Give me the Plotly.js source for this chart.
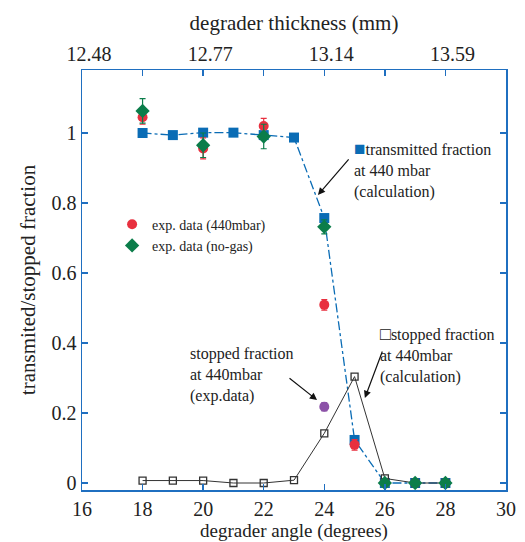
<!DOCTYPE html>
<html><head><meta charset="utf-8">
<script src="https://cdn.plot.ly/plotly-3.0.1.min.js"></script>
<style>body{margin:0;background:#fff}#c{width:525px;height:542px}</style>
</head><body><div id="c"></div>
<script>
const angles = [18,19,20,21,22,23,24,25,26,27,28];
const transCalc = [1.0,0.994,1.001,1.001,0.994,0.987,0.757,0.123,0.0,0.0,0.0];
const stopCalc = [0.007,0.007,0.007,0.0,0.0,0.008,0.142,0.304,0.013,0.0,0.0];
const expAngles = [18,20,22,24,25,26,27,28];
const exp440 = [1.045,0.956,1.02,0.509,0.109,0.0,0.0,0.0];
const exp440Err = [0.02,0.03,0.022,0.015,0.015,0.01,0.01,0.01];
const noGasAngles = [18,20,22,24,26,27,28];
const noGas = [1.063,0.965,0.99,0.732,0.0,0.0,0.0];
const noGasErr = [0.035,0.035,0.035,0.02,0.01,0.01,0.01];
const stopExpAngle = [24];
const stopExp = [0.218];
const stopExpErr = [0.012];
const angleTicks = [16,18,20,22,24,26,28,30];
const thicknessLabels = ['12.48','','12.77','','13.14','','13.59',''];

const BLUE='#0a6cb5', RED='#e8303f', GREEN='#0b7d4a', PURPLE='#8c52a8', AX='#1f6fc0';
const FONT='Liberation Serif, Times New Roman, serif';

const traces = [
 {x:angles,y:transCalc,mode:'lines+markers',showlegend:false,
  line:{color:BLUE,width:1.3,dash:'dashdot'},marker:{symbol:'square',size:10,color:BLUE}},
 {x:angles,y:stopCalc,mode:'lines+markers',showlegend:false,
  line:{color:'#333',width:1},marker:{symbol:'square-open',size:7,color:'#333',line:{width:1.3}}},
 {x:expAngles,y:exp440,mode:'markers',name:'exp. data (440mbar)',
  marker:{symbol:'circle',size:10,color:RED},
  error_y:{type:'data',array:exp440Err,color:RED,thickness:1.2,width:3}},
 {x:noGasAngles,y:noGas,mode:'markers',name:'exp. data (no-gas)',
  marker:{symbol:'diamond',size:11,color:GREEN},
  error_y:{type:'data',array:noGasErr,color:GREEN,thickness:1.2,width:3}},
 {x:stopExpAngle,y:stopExp,mode:'markers',showlegend:false,xaxis:'x2',
  marker:{symbol:'circle',size:10,color:PURPLE},
  error_y:{type:'data',array:stopExpErr,color:PURPLE,thickness:1.2,width:3}}
];

const axCommon = {showline:true,linecolor:AX,linewidth:1.5,ticks:'inside',tickcolor:AX,ticklen:6,tickwidth:1.3,
  showgrid:false,zeroline:false,tickfont:{family:FONT,size:20,color:'#222'}};

const layout = {
 width:525,height:542,margin:{l:82,r:19,t:70,b:52},
 paper_bgcolor:'#fff',plot_bgcolor:'#fff',
 font:{family:FONT,color:'#222'},
 xaxis:Object.assign({},axCommon,{range:[16,30],tickvals:angleTicks,
   title:{text:'degrader angle (degrees)',font:{family:FONT,size:19,color:'#222'},standoff:8}}),
 xaxis2:Object.assign({},axCommon,{range:[16,30],overlaying:'x',side:'top',tickvals:angleTicks,ticktext:thicknessLabels,
   ticklabelshift:7,
   title:{text:'degrader thickness (mm)',font:{family:FONT,size:21,color:'#222'},standoff:6}}),
 yaxis:Object.assign({},axCommon,{range:[-0.02,1.18],tickvals:[0,0.2,0.4,0.6,0.8,1],ticktext:['0','0.2','0.4','0.6','0.8','1'],
   mirror:'ticks',
   title:{text:'transmited/stopped fraction',font:{family:FONT,size:21,color:'#222'},standoff:10}}),
 legend:{x:0.071,y:0.67,xanchor:'left',yanchor:'top',bgcolor:'rgba(0,0,0,0)',
   font:{family:FONT,size:14,color:'#222'},itemwidth:30,tracegroupgap:4},
 annotations:[
  {x:0.637,y:0.842,xref:'paper',yref:'paper',xanchor:'left',yanchor:'top',align:'left',showarrow:false,
   text:'<span style="color:'+BLUE+';font-size:19px">■</span>transmitted fraction<br>at 440 mbar<br>(calculation)',
   font:{family:FONT,size:16,color:'#222'}},
  {x:23.79,y:0.823,ax:32,ay:-37,xref:'x',yref:'y',showarrow:true,arrowhead:2,arrowsize:1.2,arrowwidth:1.2,arrowcolor:'#111',text:''},
  {x:0.698,y:0.4,xref:'paper',yref:'paper',xanchor:'left',yanchor:'top',align:'left',showarrow:false,
   text:'<span style="font-size:18px">□</span>stopped fraction<br>at 440mbar<br>(calculation)',
   font:{family:FONT,size:16,color:'#222'}},
  {x:25.34,y:0.243,ax:18,ay:-48,xref:'x',yref:'y',showarrow:true,arrowhead:2,arrowsize:1.2,arrowwidth:1.2,arrowcolor:'#111',text:''},
  {x:0.25,y:0.35,xref:'paper',yref:'paper',xanchor:'left',yanchor:'top',align:'left',showarrow:false,
   text:'stopped fraction<br>at 440mbar<br>(exp.data)',
   font:{family:FONT,size:16,color:'#222'}},
  {x:23.76,y:0.237,ax:-29,ay:-23,xref:'x',yref:'y',showarrow:true,arrowhead:2,arrowsize:1.2,arrowwidth:1.2,arrowcolor:'#111',text:''}
 ]
};
Plotly.newPlot('c',traces,layout,{displayModeBar:false,staticPlot:true});
</script></body></html>
